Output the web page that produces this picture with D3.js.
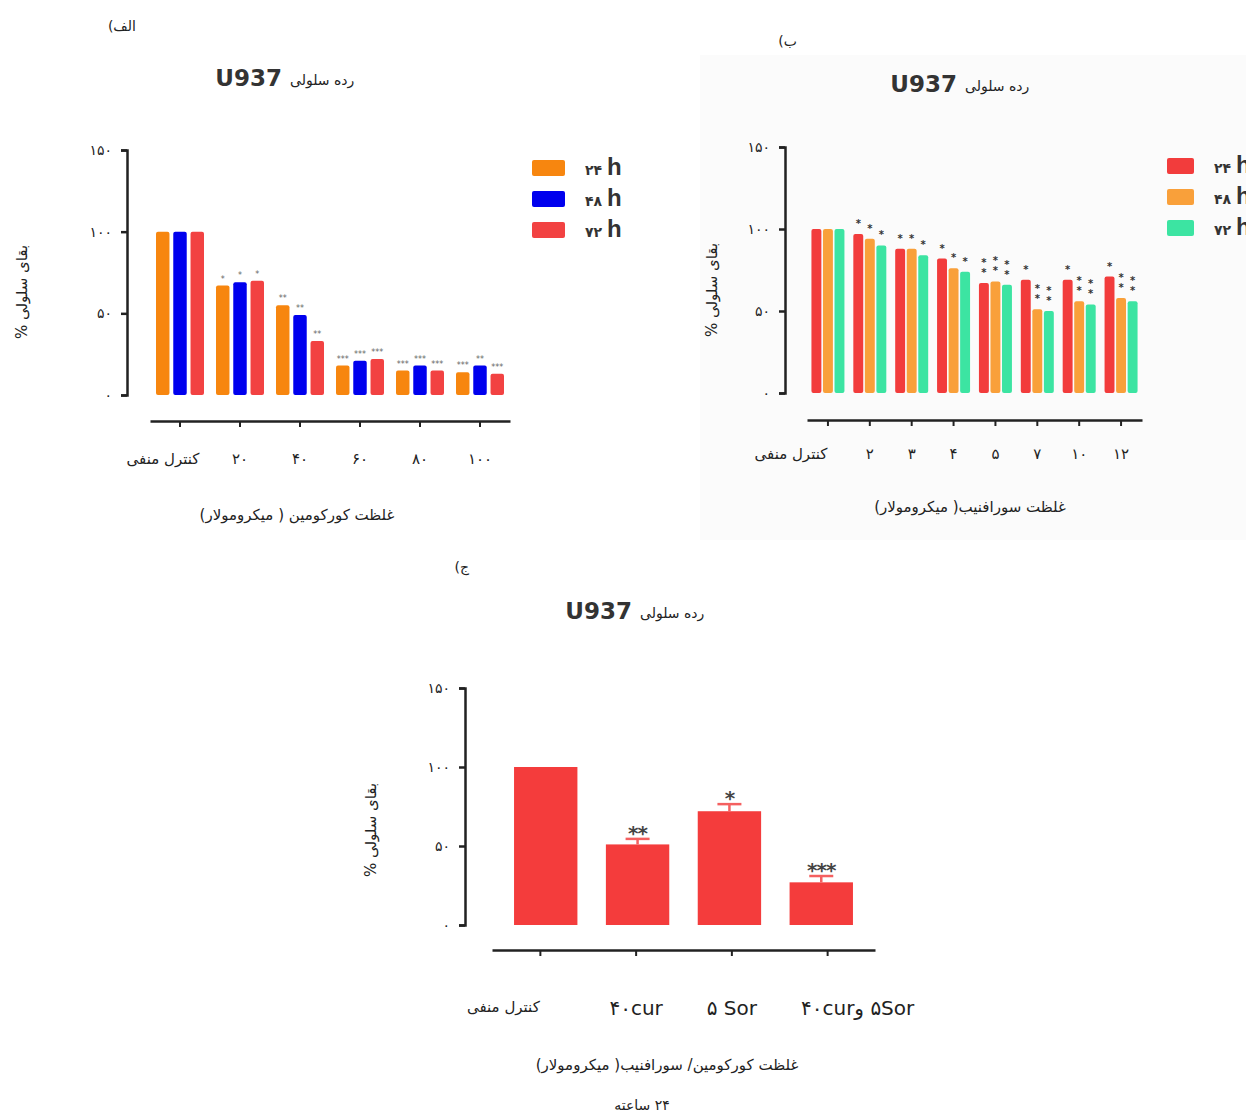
<!DOCTYPE html>
<html>
<head>
<meta charset="utf-8">
<script src="https://cdn.jsdelivr.net/npm/d3@7"></script>
<style>
  body { margin: 0; background: #fff; }
  svg { display: block; }
  text { font-family: 'DejaVu Sans', sans-serif; fill: #222; }
</style>
</head>
<body>
<div id="chart"></div>
<script>
// y axis ticks (shared by all three panels)
const yTickValues = [0, 50, 100, 150]
const yTickLabels = ['۰', '۵۰', '۱۰۰', '۱۵۰']

// panel A (curcumin)
const categoriesA = ['کنترل منفی', '۲۰', '۴۰', '۶۰', '۸۰', '۱۰۰']
const legendA = ['۲۴', '۴۸', '۷۲']
const values24A = [100, 67, 55, 18, 15, 14]
const values48A = [100, 69, 49, 21, 18, 18]
const values72A = [100, 70, 33, 22, 15, 13]
const stars24A = ['', '*', '**', '***', '***', '***']
const stars48A = ['', '*', '**', '***', '***', '**']
const stars72A = ['', '*', '**', '***', '***', '***']

// panel B (sorafenib)
const categoriesB = ['کنترل منفی', '۲', '۳', '۴', '۵', '۷', '۱۰', '۱۲']
const legendB = ['۲۴', '۴۸', '۷۲']
const values24B = [100, 97, 88, 82, 67, 69, 69, 71]
const values48B = [100, 94, 88, 76, 68, 51, 56, 58]
const values72B = [100, 90, 84, 74, 66, 50, 54, 56]
const stars24B = ['', '*', '*', '*', '**', '*', '*', '*']
const stars48B = ['', '*', '*', '*', '**', '**', '**', '**']
const stars72B = ['', '*', '*', '*', '**', '**', '**', '**']

// panel C (combination, 24 h)
const categoriesC = ['کنترل منفی', '۴۰cur', '۵ Sor', '\u202D۴۰curو ۵Sor\u202C']
const valuesC = [100, 51, 72, 27]
const errorsC = [0, 3.5, 4.5, 4]
const starsC = ['', '**', '*', '***']

const svg = d3.select('#chart').append('svg')
  .attr('width', 1246)
  .attr('height', 1117)

// faint backdrop behind panel B, as in the scan
svg.append('rect')
  .attr('x', 700).attr('y', 55).attr('width', 546).attr('height', 485)
  .attr('fill', '#fbfbfb')

// panel letter + "cell line U937" title
function titles(p) {
  svg.append('text')
    .attr('x', p.letterX).attr('y', p.letterY)
    .attr('direction', 'rtl')
    .attr('text-anchor', 'start')
    .attr('font-size', 14)
    .text(p.letter)
  svg.append('text')
    .attr('x', p.titleX - 4).attr('y', p.titleY)
    .attr('text-anchor', 'end')
    .attr('font-family', 'Liberation Sans, Arial, sans-serif')
    .attr('font-weight', 'bold')
    .attr('font-size', 23)
    .style('fill', '#333')
    .text('U937')
  svg.append('text')
    .attr('x', p.titleX + 4).attr('y', p.titleY - 1)
    .attr('text-anchor', 'start')
    .attr('font-size', 14)
    .text('رده سلولی')
}

function yAxis(x, yScale) {
  svg.append('g')
    .attr('transform', `translate(${x},0)`)
    .call(d3.axisLeft(yScale)
      .tickValues(yTickValues)
      .tickFormat((d, i) => yTickLabels[i])
      .tickSize(6)
      .tickPadding(9))
    .call(g => g.select('.domain').attr('stroke-width', 2.5).attr('stroke', '#222'))
    .call(g => g.selectAll('.tick line').attr('stroke-width', 2.5).attr('stroke', '#222'))
    .call(g => g.selectAll('.tick text')
      .attr('font-size', 14)
      .attr('font-family', 'DejaVu Sans, sans-serif')
      .style('fill', '#222'))
}

function yLabel(x, y) {
  svg.append('text')
    .attr('transform', `translate(${x},${y}) rotate(-90)`)
    .attr('text-anchor', 'middle')
    .attr('direction', 'rtl')
    .attr('font-size', 15)
    .text('بقای سلولی %')
}

// dx shifts each tick label a little, like the scan
function xAxis(xScale, y, pad, fontSize, dxs) {
  return svg.append('g')
    .attr('transform', `translate(0,${y})`)
    .call(d3.axisBottom(xScale).tickSize(6).tickSizeOuter(0).tickPadding(pad))
    .call(g => g.select('.domain').attr('stroke-width', 2.5).attr('stroke', '#222'))
    .call(g => g.selectAll('.tick line').attr('stroke-width', 2).attr('stroke', '#222'))
    .call(g => g.selectAll('.tick text')
      .attr('font-size', (d, i) => (i === 0 ? 15 : fontSize))
      .attr('font-family', 'DejaVu Sans, sans-serif')
      .attr('dx', (d, i) => dxs[i] || 0)
      .style('fill', '#222'))
}

// grouped bars for panels A and B
function drawGrouped(c) {
  titles(c)

  const x0 = d3.scaleBand().domain(c.categories).range(c.xRange)
  const x1 = d3.scaleBand()
    .domain(d3.range(c.values.length))
    .range([-c.groupWidth / 2, c.groupWidth / 2])
    .paddingInner(c.innerPad)
  const y = d3.scaleLinear().domain([0, 150]).range(c.yRange)

  yAxis(c.yAxisX, y)
  yLabel(c.yLabelX, c.yLabelY)
  xAxis(x0, c.xAxisY, c.xPad, 15, [c.firstDx])

  c.values.forEach((vals, s) => {
    const g = svg.append('g')
    g.selectAll('rect')
      .data(vals)
      .join('rect')
      .attr('x', (d, i) => x0(c.categories[i]) + x0.bandwidth() / 2 + x1(s))
      .attr('y', d => y(d))
      .attr('width', x1.bandwidth())
      .attr('height', d => y(0) - y(d))
      .attr('rx', 2)
      .attr('fill', c.colors[s])

    // significance asterisks above each bar
    vals.forEach((v, i) => {
      const stars = c.stars[s][i]
      if (!stars) return
      const cx = x0(c.categories[i]) + x0.bandwidth() / 2 + x1(s) + x1.bandwidth() / 2
      if (c.stackStars) {
        for (let k = 0; k < stars.length; k++) {
          g.append('text')
            .attr('x', cx)
            .attr('y', y(v) - c.starGap - k * 10)
            .attr('text-anchor', 'middle')
            .attr('font-size', c.starSize)
            .attr('font-weight', 'bold')
            .style('fill', c.starColor)
            .text('*')
        }
      } else {
        g.append('text')
          .attr('x', cx)
          .attr('y', y(v) - c.starGap)
          .attr('text-anchor', 'middle')
          .attr('font-size', c.starSize)
          .style('fill', c.starColor)
          .text(stars)
      }
    })
  })

  // legend
  c.legend.forEach((lab, s) => {
    const ly = c.legendY + s * 31
    svg.append('rect')
      .attr('x', c.legendX).attr('y', ly)
      .attr('width', c.legendW).attr('height', 16)
      .attr('rx', 2)
      .attr('fill', c.colors[s])
    const t = svg.append('text')
      .attr('x', c.legendX + c.legendW + 20)
      .attr('y', ly + 15)
      .style('fill', '#333')
    t.append('tspan').attr('font-size', 14).attr('font-weight', 'bold').text(lab + ' ')
    t.append('tspan')
      .attr('font-size', 24)
      .attr('font-family', 'Liberation Sans, Arial, sans-serif')
      .attr('font-weight', 'bold')
      .text('h')
  })

  svg.append('text')
    .attr('x', c.xTitleX).attr('y', c.xTitleY)
    .attr('text-anchor', 'middle')
    .attr('direction', 'rtl')
    .attr('font-size', 15)
    .text(c.xTitle)
}

drawGrouped({
  letter: 'الف)', letterX: 136, letterY: 31,
  titleX: 286, titleY: 86,
  categories: categoriesA,
  values: [values24A, values48A, values72A],
  stars: [stars24A, stars48A, stars72A],
  colors: ['#f7860f', '#0000ee', '#f24242'],
  legend: legendA,
  xRange: [150, 510], groupWidth: 48, innerPad: 0.22,
  yRange: [395, 150], yAxisX: 127,
  yLabelX: 27, yLabelY: 292,
  xAxisY: 421, xPad: 26, firstDx: -17,
  starGap: 4, starSize: 8, starColor: '#666', stackStars: false,
  legendX: 532, legendY: 160, legendW: 33,
  xTitle: 'غلظت کورکومین ( میکرومولار)', xTitleX: 297, xTitleY: 520
})

drawGrouped({
  letter: 'ب)', letterX: 797, letterY: 46,
  titleX: 961, titleY: 92,
  categories: categoriesB,
  values: [values24B, values48B, values72B],
  stars: [stars24B, stars48B, stars72B],
  colors: ['#f23c3c', '#f9a03a', '#3ce4a2'],
  legend: legendB,
  xRange: [807, 1142], groupWidth: 33, innerPad: 0.14,
  yRange: [393, 147], yAxisX: 785,
  yLabelX: 717, yLabelY: 290,
  xAxisY: 420, xPad: 22, firstDx: -37,
  starGap: 7, starSize: 10, starColor: '#333', stackStars: true,
  legendX: 1167, legendY: 158, legendW: 27,
  xTitle: 'غلظت سورافنیب( میکرومولار)', xTitleX: 970, xTitleY: 512
})

// panel C: single series with error bars
titles({ letter: 'ج)', letterX: 469, letterY: 572, titleX: 636, titleY: 619 })

const xC = d3.scaleBand().domain(categoriesC).range([492, 875]).paddingInner(0.31).paddingOuter(0.24)
const yC = d3.scaleLinear().domain([0, 150]).range([925, 688])

yAxis(465, yC)
yLabel(376, 830)
xAxis(d3.scalePoint().domain(categoriesC).range([492, 875]).padding(0.5), 950, 45, 20, [-37, 0, 0, 30])
  .selectAll('.tick text')
  .filter((d, i) => i > 0)
  .attr('font-family', 'Liberation Sans, Arial, sans-serif')

svg.append('g')
  .selectAll('rect')
  .data(valuesC)
  .join('rect')
  .attr('x', (d, i) => xC(categoriesC[i]))
  .attr('y', d => yC(d))
  .attr('width', xC.bandwidth())
  .attr('height', d => yC(0) - yC(d))
  .attr('fill', '#f43c3c')

const errG = svg.append('g').attr('stroke', '#f46060').attr('stroke-width', 2.5)
valuesC.forEach((v, i) => {
  if (!errorsC[i]) return
  const cx = xC(categoriesC[i]) + xC.bandwidth() / 2
  errG.append('line')
    .attr('x1', cx).attr('x2', cx)
    .attr('y1', yC(v)).attr('y2', yC(v + errorsC[i]))
  errG.append('line')
    .attr('x1', cx - 12).attr('x2', cx + 12)
    .attr('y1', yC(v + errorsC[i])).attr('y2', yC(v + errorsC[i]))
  svg.append('text')
    .attr('x', cx)
    .attr('y', yC(v + errorsC[i]) + 1)
    .attr('text-anchor', 'middle')
    .attr('font-size', 20)
    .attr('font-weight', 'bold')
    .attr('letter-spacing', -1)
    .style('fill', '#444')
    .text(starsC[i])
})

svg.append('text')
  .attr('x', 667).attr('y', 1070)
  .attr('text-anchor', 'middle')
  .attr('direction', 'rtl')
  .attr('font-size', 15)
  .text('غلظت کورکومین/ سورافنیب( میکرومولار)')

svg.append('text')
  .attr('x', 642).attr('y', 1110)
  .attr('text-anchor', 'middle')
  .attr('direction', 'rtl')
  .attr('font-size', 14)
  .text('۲۴ ساعته')
</script>
</body>
</html>
